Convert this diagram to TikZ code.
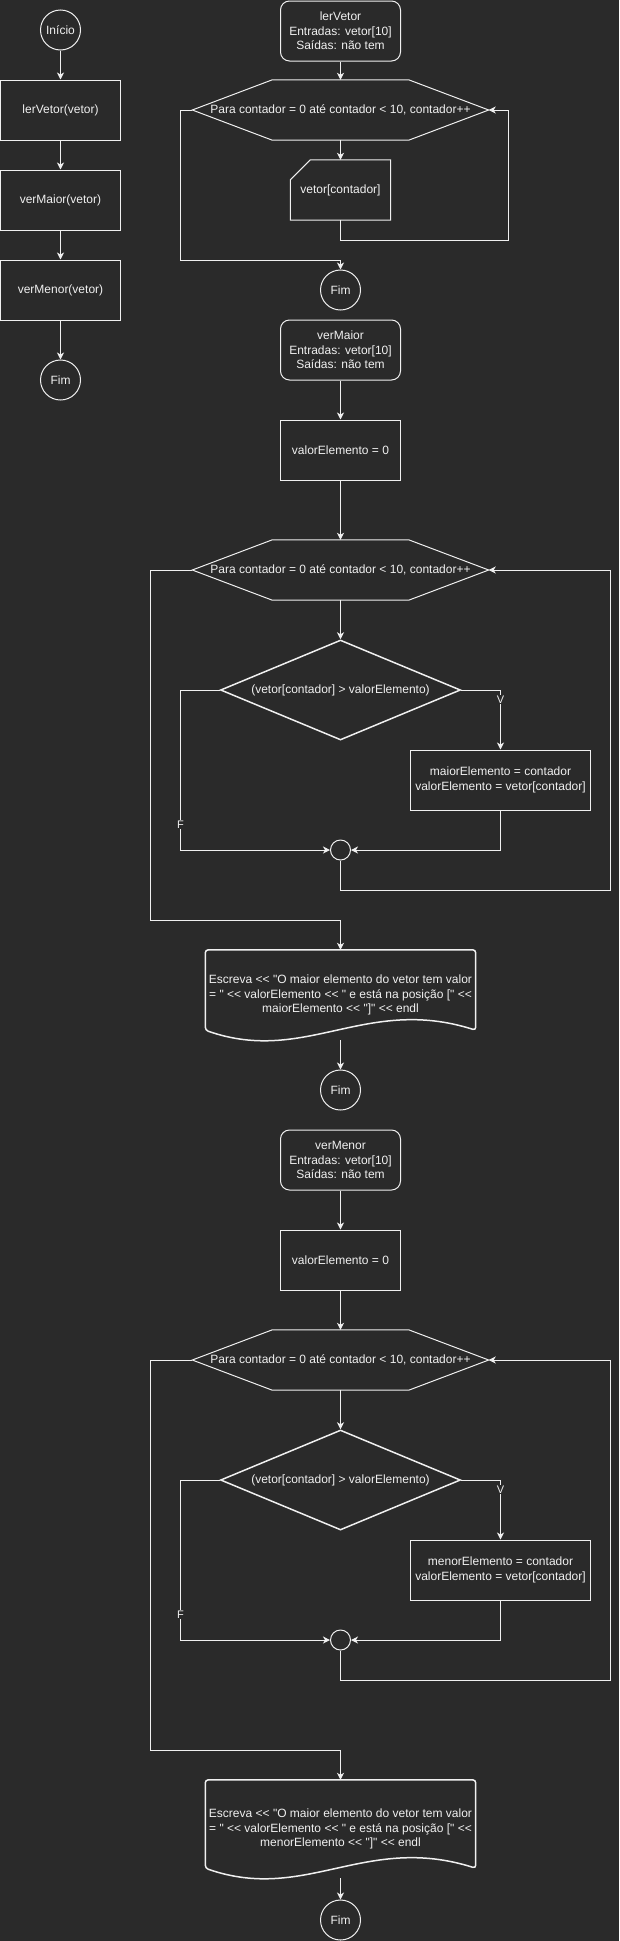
\documentclass[tikz,border=0pt]{standalone}
\usepackage{fontspec}
\setmainfont{Liberation Sans}[Ligatures=TeXOff]
\usepackage{tikz}
\usetikzlibrary{calc,shapes.geometric,arrows.meta,positioning}
\definecolor{fundo}{HTML}{2A2A2A}
\definecolor{traco}{HTML}{F0F0F0}
\newcommand{\espessura}{1pt}
\newcommand{\recuo}{80}
\newcommand{\onda}{10}

\tikzset{
  seta/.style={draw=traco, line width=\espessura, -{Stealth[length=7pt,width=7pt,inset=2pt]}},
  bloco/.style={draw=traco, line width=\espessura, rectangle, minimum width=120pt, minimum height=60pt, inner sep=0pt, align=center},
  cabec/.style={bloco, rounded corners=9pt},
  term/.style={draw=traco, line width=\espessura, circle, minimum size=40pt, inner sep=0pt},
  juncao/.style={draw=traco, line width=\espessura, circle, minimum size=20pt, inner sep=0pt},
  laco/.style={rectangle, minimum width=296pt, minimum height=60pt, inner sep=0pt},
  entrada/.style={rectangle, minimum width=100pt, minimum height=60pt, inner sep=0pt},
  decisao/.style={draw=traco, line width=1.5pt, diamond, minimum width=240pt, minimum height=100pt, inner sep=0pt, aspect=2.4},
  docum/.style={rectangle, minimum width=270pt, inner sep=0pt, align=center},
  rotulo/.style={fill=fundo, inner sep=1pt, font=\fontsize{11}{13}\selectfont},
  contorno/.style={draw=traco, line width=\espessura},
}

\begin{document}
\begin{tikzpicture}[x=1pt, y=-1pt, every node/.style={text=traco, font=\fontsize{12}{14.4}\selectfont}]
\path[use as bounding box, fill=fundo] (0,0) rectangle (619,1941);
%principal
\node[term] (inicio) at (60.5, 30) {Início};
\node[bloco] (lerV) at (60.5, 110) {lerVetor(vetor)};
\node[bloco] (verMa) at (60.5, 200) {verMaior(vetor)};
\node[bloco] (verMe) at (60.5, 290) {verMenor(vetor)};
\node[term] (fim0) at (60.5, 380) {Fim};
\draw[seta] (inicio) -- (lerV);
\draw[seta] (lerV) -- (verMa);
\draw[seta] (verMa) -- (verMe);
\draw[seta] (verMe) -- (fim0);
%lerVetor
\node[cabec] (hdr1) at (340.5, 31) {lerVetor\\Entradas: vetor[10]\\Saídas: não tem};
\node[laco] (hex1) at (340.5, 110) {Para contador = 0 até contador < 10, contador++};
\node[entrada] (in1) at (340.5, 190) {vetor[contador]};
\node[term] (fim1) at (340.5, 290) {Fim};
\coordinate (r1) at (508.5, 240);
\coordinate (l1) at (180.5, 260);
\draw[contorno] (hex1.west) -- ($(hex1.north west)+(\recuo,0)$) -- ($(hex1.north east)+(-\recuo,0)$) -- (hex1.east) -- ($(hex1.south east)+(-\recuo,0)$) -- ($(hex1.south west)+(\recuo,0)$) -- cycle;
\draw[contorno] ($(in1.north west)+(20,0)$) -- (in1.north east) -- (in1.south east) -- (in1.south west) -- ($(in1.north west)+(0,20)$) -- cycle;
\draw[seta] (hdr1) -- (hex1);
\draw[seta] (hex1) -- (in1);
\draw[seta] (in1) |- (r1) |- (hex1.east);
\draw[seta] (hex1.west) -| (l1) -| (fim1);
%verMaior
\node[cabec] (hdr2) at (340.5, 350) {verMaior\\Entradas: vetor[10]\\Saídas: não tem};
\node[bloco] (val2) at (340.5, 450) {valorElemento = 0};
\node[laco] (hex2) at (340.5, 570) {Para contador = 0 até contador < 10, contador++};
\node[decisao] (dia2) at (340.5, 690) {(vetor[contador] > valorElemento)};
\node[bloco, minimum width=180pt] (box2) at (500.5, 780) {maiorElemento = contador\\valorElemento = vetor[contador]};
\node[juncao] (j2) at (340.5, 850) {};
\node[docum, minimum height=90pt] (doc2) at (340.5, 995) {Escreva << "O maior elemento do vetor tem valor\\= " << valorElemento << " e está na posição [" <<\\maiorElemento << "]" << endl};
\node[term] (fim2) at (340.5, 1090) {Fim};
\coordinate (f2) at (180.5, 850);
\coordinate (r2) at (610.5, 890);
\coordinate (l2) at (150.5, 920);
\draw[contorno] (hex2.west) -- ($(hex2.north west)+(\recuo,0)$) -- ($(hex2.north east)+(-\recuo,0)$) -- (hex2.east) -- ($(hex2.south east)+(-\recuo,0)$) -- ($(hex2.south west)+(\recuo,0)$) -- cycle;
\draw[contorno, line width=1.5pt, rounded corners=3pt] ($(doc2.south east)+(0,-\onda)$) .. controls ($(doc2.south)+(25,-45)$) and ($(doc2.south)+(-35,25)$) .. ($(doc2.south west)+(0,-\onda)$) -- (doc2.north west) -- (doc2.north east) -- cycle;
\draw[seta] (hdr2) -- (val2);
\draw[seta] (val2) -- (hex2);
\draw[seta] (hex2) -- (dia2);
\draw[seta] (dia2) -| node[rotulo, pos=0.58] {V} (box2);
\draw[seta] (box2) |- (j2);
\draw[seta] (dia2) -| node[rotulo, pos=0.92] {F} (f2) -- (j2);
\draw[seta] (j2) |- (r2) |- (hex2.east);
\draw[seta] (hex2.west) -| (l2) -| (doc2);
\draw[seta] (doc2) -- (fim2);
%verMenor
\node[cabec] (hdr3) at (340.5, 1160) {verMenor\\Entradas: vetor[10]\\Saídas: não tem};
\node[bloco] (val3) at (340.5, 1260) {valorElemento = 0};
\node[laco] (hex3) at (340.5, 1360) {Para contador = 0 até contador < 10, contador++};
\node[decisao] (dia3) at (340.5, 1480) {(vetor[contador] > valorElemento)};
\node[bloco, minimum width=180pt] (box3) at (500.5, 1570) {menorElemento = contador\\valorElemento = vetor[contador]};
\node[juncao] (j3) at (340.5, 1640) {};
\node[docum, minimum height=98pt] (doc3) at (340.5, 1829) {Escreva << "O maior elemento do vetor tem valor\\= " << valorElemento << " e está na posição [" <<\\menorElemento << "]" << endl};
\node[term] (fim3) at (340.5, 1920) {Fim};
\coordinate (f3) at (180.5, 1640);
\coordinate (r3) at (610.5, 1680);
\coordinate (l3) at (150.5, 1750);
\draw[contorno] (hex3.west) -- ($(hex3.north west)+(\recuo,0)$) -- ($(hex3.north east)+(-\recuo,0)$) -- (hex3.east) -- ($(hex3.south east)+(-\recuo,0)$) -- ($(hex3.south west)+(\recuo,0)$) -- cycle;
\draw[contorno, line width=1.5pt, rounded corners=3pt] ($(doc3.south east)+(0,-\onda)$) .. controls ($(doc3.south)+(25,-45)$) and ($(doc3.south)+(-35,25)$) .. ($(doc3.south west)+(0,-\onda)$) -- (doc3.north west) -- (doc3.north east) -- cycle;
\draw[seta] (hdr3) -- (val3);
\draw[seta] (val3) -- (hex3);
\draw[seta] (hex3) -- (dia3);
\draw[seta] (dia3) -| node[rotulo, pos=0.58] {V} (box3);
\draw[seta] (box3) |- (j3);
\draw[seta] (dia3) -| node[rotulo, pos=0.92] {F} (f3) -- (j3);
\draw[seta] (j3) |- (r3) |- (hex3.east);
\draw[seta] (hex3.west) -| (l3) -| (doc3);
\draw[seta] (doc3) -- (fim3);
\end{tikzpicture}
\end{document}
